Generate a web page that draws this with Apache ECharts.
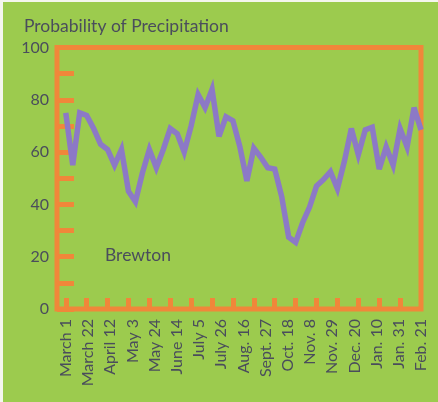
<!DOCTYPE html>
<html>
<head>
<meta charset="utf-8">
<script src="https://cdn.jsdelivr.net/npm/echarts@6/dist/echarts.min.js"></script>
<style>
  html, body { margin: 0; padding: 0; background: #f4f6ee; }
  #chart { position: absolute; left: 3px; top: 2px; width: 435px; height: 400px; }
</style>
</head>
<body>
<div id="chart"></div>
<script>
// Weekly probability of precipitation (%), one value per week from March 1
const weeklyProbability = [
  75, 55, 75, 74, 69, 63, 61, 55, 61, 45,
  41, 52, 61, 54, 61, 69, 67, 60, 70, 82,
  77, 84, 66, 73.5, 72, 62, 49, 61.5, 58, 54,
  53.5, 43, 27.5, 25.5, 33, 39, 47, 49.5, 52.5, 46,
  56.5, 69, 59, 68.5, 69.5, 53.5, 62, 55, 69, 62,
  77, 68.5
];

// Date labels, spread evenly from the first week to the last
const dateLabels = [
  'March 1', 'March 22', 'April 12', 'May 3', 'May 24', 'June 14',
  'July 5', 'July 26', 'Aug. 16', 'Sept. 27', 'Oct. 18', 'Nov. 8',
  'Nov. 29', 'Dec. 20', 'Jan. 10', 'Jan. 31', 'Feb. 21'
];

const yTickLabels = [0, 20, 40, 60, 80, 100];

const chartTitle = 'Probability of Precipitation';
const stationName = 'Brewton';

const GREEN = '#9ccb4e';
const ORANGE = '#f0873a';
const PURPLE = '#8c79c6';
const INK = '#4a4d5c';
const FONT = 'Lato';

const lastWeek = weeklyProbability.length - 1;
const labelStep = lastWeek / (dateLabels.length - 1);
const labelWeeks = dateLabels.map((_, i) => i * labelStep);
// orange tick marks every third week along the bottom edge
const tickWeeks = [];
for (let w = 0; w < lastWeek; w += 3) tickWeeks.push(w);

const chart = echarts.init(document.getElementById('chart'), null, { renderer: 'canvas' });

chart.setOption({
  backgroundColor: GREEN,
  animation: false,
  title: [
    {
      text: chartTitle,
      left: 21, top: 15, padding: 0,
      textStyle: { fontFamily: FONT, fontSize: 17.5, fontWeight: 'normal', color: INK }
    },
    {
      text: stationName,
      left: 102, top: 244, padding: 0,
      textStyle: { fontFamily: FONT, fontSize: 17.5, fontWeight: 'normal', color: INK }
    }
  ],
  grid: {
    left: 54, right: 17, top: 45.5, bottom: 93,
    show: true,
    borderColor: ORANGE,
    borderWidth: 5,
    backgroundColor: 'transparent'
  },
  xAxis: {
    type: 'value',
    min: -1.26,
    max: lastWeek,
    splitLine: { show: false },
    axisLine: { show: false, onZero: false },
    axisTick: {
      show: true,
      inside: true,
      length: 11,
      customValues: tickWeeks,
      lineStyle: { color: ORANGE, width: 5 }
    },
    axisLabel: {
      show: true,
      rotate: 90,
      margin: 10,
      customValues: labelWeeks,
      formatter: (v) => dateLabels[Math.round(v / labelStep)],
      fontFamily: FONT,
      fontSize: 16,
      color: INK
    }
  },
  yAxis: {
    type: 'value',
    min: 0,
    max: 100,
    interval: 10,
    splitLine: { show: false },
    axisLine: { show: false, onZero: false },
    axisTick: {
      show: true,
      inside: true,
      length: 17,
      lineStyle: { color: ORANGE, width: 5 }
    },
    axisLabel: {
      show: true,
      margin: 8,
      customValues: yTickLabels,
      fontFamily: FONT,
      fontSize: 16,
      color: INK
    }
  },
  series: [
    {
      type: 'line',
      data: weeklyProbability.map((v, i) => [i, v]),
      showSymbol: false,
      symbol: 'none',
      lineStyle: { color: PURPLE, width: 5.5, join: 'miter', miterLimit: 4, cap: 'butt' },
      z: 1
    }
  ]
});
</script>
</body>
</html>
